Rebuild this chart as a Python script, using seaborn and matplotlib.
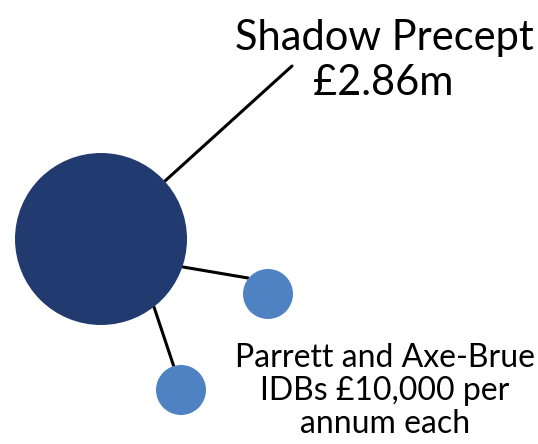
import matplotlib
matplotlib.use("Agg")
import matplotlib.pyplot as plt
import seaborn as sns
import pandas as pd

# Data
names = ["Shadow Precept", "Parrett IDB", "Axe-Brue IDB"]
roles = ["main", "idb", "idb"]
labels_top = ["Shadow Precept", "£2.86m"]
labels_bottom = ["Parrett and Axe-Brue", "IDBs £10,000 per", "annum each"]

# Layout (pixel space)
cx = [101, 268, 181]
cy = [239, 294, 390]
radius = [86, 25, 25]

W, H, DPI = 538, 444, 100
sns.set_theme(style="white")
plt.rcParams['font.family'] = ['Lato', 'DejaVu Sans']

fig = plt.figure(figsize=(W / DPI, H / DPI), dpi=DPI)
ax = fig.add_axes([0, 0, 1, 1])
ax.set_xlim(0, W)
ax.set_ylim(H, 0)
ax.axis("off")

# connector lines
segments = [((165, 181), (292, 66)), ((183, 267), (248, 278)), ((154, 307), (174, 367))]
for (x0, y0), (x1, y1) in segments:
    sns.lineplot(x=[x0, x1], y=[y0, y1], ax=ax, color="black", lw=2.2,
                 sort=False, estimator=None, zorder=1)

# circles: scatter size in points^2 from pixel radius
px2pt = 72.0 / DPI
df = pd.DataFrame({"name": names, "role": roles, "x": cx, "y": cy,
                   "s": [(2 * r * px2pt) ** 2 for r in radius]})
sizes = dict(zip(df["name"], df["s"]))
palette = {"main": "#213A70", "idb": "#4F82C2"}
sns.scatterplot(data=df, x="x", y="y", hue="role", size="name", sizes=sizes,
                palette=palette, linewidth=0, legend=False, ax=ax, zorder=2)

# texts
ax.text(384, 50, labels_top[0], ha="center", va="baseline", fontsize=30, color="black")
ax.text(383, 95, labels_top[1], ha="center", va="baseline", fontsize=30, color="black")
for txt, yb in zip(labels_bottom, [367, 400, 433]):
    ax.text(385, yb, txt, ha="center", va="baseline", fontsize=23, color="black")

fig.savefig("out.png", dpi=DPI)
